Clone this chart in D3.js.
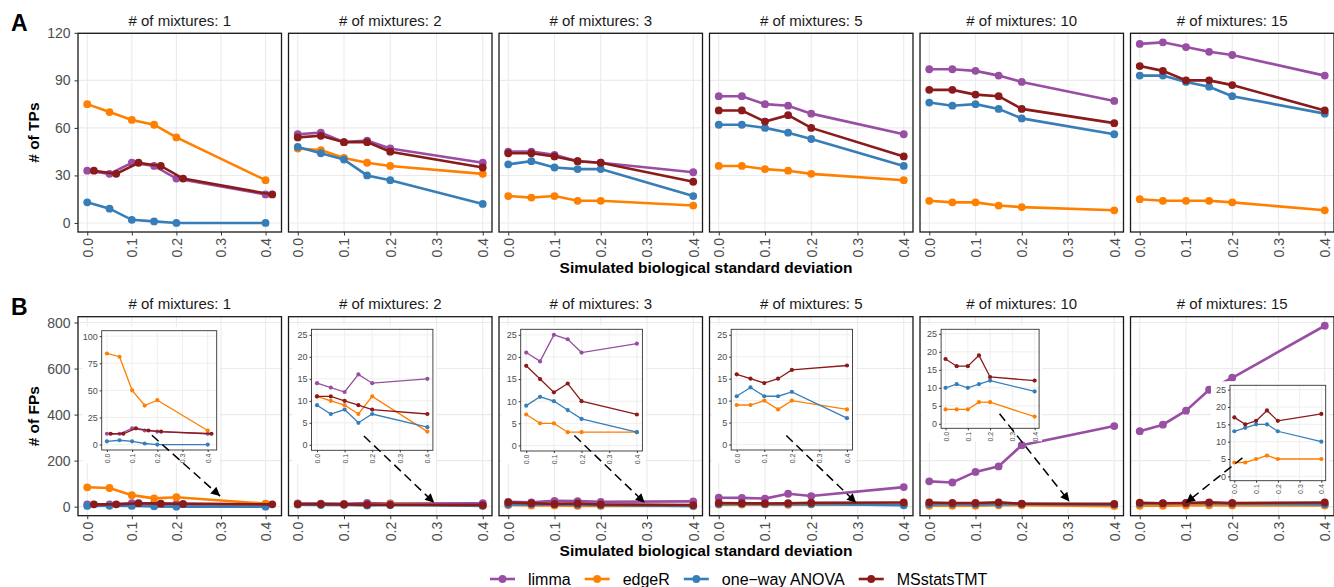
<!DOCTYPE html>
<html>
<head>
<meta charset="utf-8">
<script src="https://cdn.jsdelivr.net/npm/d3@7"></script>
<style>
  body { margin: 0; background: #fff; }
  svg { font-family: "Liberation Sans", Arial, sans-serif; }
</style>
</head>
<body>
<svg id="chart"></svg>
<script>
// ---- data ----
var sds = [0, 0.05, 0.1, 0.15, 0.2, 0.4];
var mixtures = [1, 2, 3, 5, 10, 15];
var methods = ["limma", "edgeR", "one\u2212way ANOVA", "MSstatsTMT"];
var colors = ["#984EA3", "#FF7F00", "#377EB8", "#8B1A1A"];

// true positives, one array per mixture panel
var tpLimma   = [[33,31,38,36,28,18],[56,57,51,52,47,38],[45,45,43,39,38,32],[80,80,75,74,69,56],[97,97,96,93,89,77],[113,114,111,108,106,93]];
var tpEdgeR   = [[75,70,65,62,54,27],[47,46,41,38,36,31],[17,16,17,14,14,11],[36,36,34,33,31,27],[14,13,13,11,10,8],[15,14,14,14,13,8]];
var tpAnova   = [[13,9,2,1,0,0],[48,44,40,30,27,12],[37,39,35,34,34,17],[62,62,60,57,53,36],[76,74,75,72,66,56],[93,93,89,86,80,69]];
var tpMSstats = [[33,31,38,36,28,18],[54,55,51,51,45,35],[44,44,42,39,38,26],[71,71,64,68,60,42],[84,84,81,80,72,63],[99,96,90,90,87,71]];

// false positives
var fpLimma   = [[10,10,15,13,12,10],[14,13,12,16,14,15],[21,19,25,24,21,23],[39,38,35,56,46,85],[110,105,151,175,267,350],[328,356,417,508,560,786]];
var fpEdgeR   = [[84,81,50,36,41,13],[11,10,9,7,11,3],[7,5,5,3,3,3],[9,9,10,8,10,8],[4,4,4,6,6,2],[4,4,5,6,5,5]];
var fpAnova   = [[3,4,3,1,0,0],[9,7,8,5,7,4],[9,11,10,8,6,3],[11,13,11,11,12,6],[10,11,10,11,12,9],[13,14,15,15,13,10]];
var fpMSstats = [[10,10,15,13,12,10],[11,11,10,9,8,7],[18,15,12,14,10,7],[16,15,14,15,17,18],[18,16,16,19,13,12],[17,15,16,19,16,18]];

var xTicks = [0, 0.1, 0.2, 0.3, 0.4];
var tpTicks = [0, 30, 60, 90, 120];
var fpTicks = [0, 200, 400, 600, 800];

// zoom-in insets for FP panels
var insetMethods = [[0,1,2,3],[0,1,2,3],[0,1,2,3],[1,2,3],[1,2,3],[1,2,3]];
var insetYMax = [100, 25, 25, 25, 25, 25];
var insetTicks = [[0,25,50,75,100],[0,5,10,15,20,25],[0,5,10,15,20,25],[0,5,10,15,20,25],[0,5,10,15,20,25],[0,5,10,15,20,25]];
// arrow from inset to main lines, in data units
var arrowFrom = [[0.145,310],[0.143,307],[0.143,309],[0.146,309],[0.152,404],[0.222,212]];
var arrowTo   = [[0.298,46],[0.295,17],[0.295,17],[0.297,17],[0.303,22],[0.1,17]];

// MSstatsTMT points are dodged in the single-mixture panel
var dodge = [0.015, 0, 0, 0, 0, 0];

// ---- layout ----
var width = 1334, height = 587;
var panelW = 203.5, panelGap = 7, left0 = 78;
var rows = [
  {top: 33.3, bottom: 232, label: "A", ytitle: "# of TPs", ticks: tpTicks, series: [tpLimma, tpEdgeR, tpAnova, tpMSstats], inset: false},
  {top: 316.7, bottom: 515.7, label: "B", ytitle: "# of FPs", ticks: fpTicks, series: [fpLimma, fpEdgeR, fpAnova, fpMSstats], inset: true}
];
// inset plot area relative to panel [dx, dy, w, h]
var insetBox = [[23.7,14,115,119.3],[23,12.6,121.4,121],[21.7,12.6,121.7,121.7],[21.7,12.6,121.3,120.7],[21.1,12.6,98,99],[99.5,68.6,95.7,95.4]];

var svg = d3.select("#chart").attr("width", width).attr("height", height);

svg.append("defs").append("marker")
  .attr("id", "arrowhead")
  .attr("viewBox", "0 0 10 10")
  .attr("refX", 10).attr("refY", 5)
  .attr("markerWidth", 11).attr("markerHeight", 9)
  .attr("markerUnits", "userSpaceOnUse")
  .attr("orient", "auto")
  .append("path").attr("d", "M0,0 L10,5 L0,10 Z").attr("fill", "#000");

function xValue(p, m, x) { return m === 3 ? x + dodge[p] : x; }

function xScaleFor(p, x0, x1) {
  var hi = d3.max(sds) + dodge[p], lo = 0;
  var pad = (hi - lo) * 0.05;
  return d3.scaleLinear().domain([lo - pad, hi + pad]).range([x0, x1]);
}

function styleAxis(g) {
  g.select(".domain").remove();
  g.selectAll(".tick line").attr("stroke", "#333").attr("stroke-width", 1);
}

rows.forEach(function(row) {
  var allVals = d3.merge(row.series.map(function(s){ return d3.merge(s); }));
  var ymin = 0, ymax = d3.max(allVals);
  var ypad = (ymax - ymin) * 0.05;
  var y = d3.scaleLinear().domain([ymin - ypad, ymax + ypad]).range([row.bottom, row.top]);

  svg.append("text").attr("x", 11).attr("y", row.top - 2)
     .attr("font-size", 23).attr("font-weight", "bold").text(row.label);

  svg.append("text")
     .attr("transform", "translate(39," + ((row.top + row.bottom) / 2) + ") rotate(-90)")
     .attr("text-anchor", "middle").attr("font-size", 15.5).attr("font-weight", "bold")
     .text(row.ytitle);

  mixtures.forEach(function(mix, p) {
    var x0 = left0 + p * (panelW + panelGap), x1 = x0 + panelW;
    var x = xScaleFor(p, x0, x1);
    var g = svg.append("g");

    g.append("text").attr("x", (x0 + x1) / 2).attr("y", row.top - 7.5)
     .attr("text-anchor", "middle").attr("font-size", 15).attr("fill", "#1a1a1a")
     .text("# of mixtures: " + mix);

    // grid
    g.selectAll(".gx").data(xTicks).enter().append("line")
     .attr("x1", d => x(d)).attr("x2", d => x(d))
     .attr("y1", row.top).attr("y2", row.bottom)
     .attr("stroke", "#ebebeb").attr("stroke-width", 1.1);
    g.selectAll(".gy").data(row.ticks).enter().append("line")
     .attr("x1", x0).attr("x2", x1)
     .attr("y1", d => y(d)).attr("y2", d => y(d))
     .attr("stroke", "#ebebeb").attr("stroke-width", 1.1);

    // series
    row.series.forEach(function(s, m) {
      var pts = s[p].map(function(v, i){ return [xValue(p, m, sds[i]), v]; });
      g.append("path").datum(pts)
       .attr("d", d3.line().x(d => x(d[0])).y(d => y(d[1])))
       .attr("fill", "none").attr("stroke", colors[m]).attr("stroke-width", 2.6);
      g.selectAll(null).data(pts).enter().append("circle")
       .attr("cx", d => x(d[0])).attr("cy", d => y(d[1])).attr("r", 3.9)
       .attr("fill", colors[m]);
    });

    g.append("rect").attr("x", x0).attr("y", row.top)
     .attr("width", panelW).attr("height", row.bottom - row.top)
     .attr("fill", "none").attr("stroke", "#1a1a1a").attr("stroke-width", 1.3);

    // x axis
    var xa = g.append("g").attr("transform", "translate(0," + row.bottom + ")")
      .call(d3.axisBottom(x).tickValues(xTicks).tickFormat(d3.format(".1f")).tickSize(3.5).tickPadding(2));
    styleAxis(xa);
    xa.selectAll("text").attr("transform", "rotate(-90)")
      .attr("text-anchor", "end").attr("x", -6).attr("y", 0).attr("dy", "0.35em")
      .attr("font-size", 14).attr("fill", "#4d4d4d")
      .attr("font-family", "Liberation Sans, Arial, sans-serif");

    if (p === 0) {
      var ya = g.append("g").attr("transform", "translate(" + x0 + ",0)")
        .call(d3.axisLeft(y).tickValues(row.ticks).tickSize(3.5).tickPadding(4));
      styleAxis(ya);
      ya.selectAll("text").attr("font-size", 14).attr("fill", "#4d4d4d")
        .attr("font-family", "Liberation Sans, Arial, sans-serif");
    }

    if (row.inset) {
      var b = insetBox[p];
      var ix0 = x0 + b[0], iy0 = row.top + b[1], iw = b[2], ih = b[3];
      var ig = g.append("g");
      ig.append("rect").attr("x", ix0 - 19).attr("y", iy0 - 4)
        .attr("width", iw + 22).attr("height", ih + 17).attr("fill", "#fff");
      var ix = xScaleFor(p, ix0, ix0 + iw);
      var ipad = insetYMax[p] * 0.05;
      var iy = d3.scaleLinear().domain([-ipad, insetYMax[p] + ipad]).range([iy0 + ih, iy0]);

      ig.selectAll(null).data(xTicks).enter().append("line")
        .attr("x1", d => ix(d)).attr("x2", d => ix(d)).attr("y1", iy0).attr("y2", iy0 + ih)
        .attr("stroke", "#ebebeb").attr("stroke-width", 0.8);
      ig.selectAll(null).data(insetTicks[p]).enter().append("line")
        .attr("x1", ix0).attr("x2", ix0 + iw).attr("y1", d => iy(d)).attr("y2", d => iy(d))
        .attr("stroke", "#ebebeb").attr("stroke-width", 0.8);

      insetMethods[p].forEach(function(m) {
        var pts = row.series[m][p].map(function(v, i){ return [xValue(p, m, sds[i]), v]; });
        ig.append("path").datum(pts)
          .attr("d", d3.line().x(d => ix(d[0])).y(d => iy(d[1])))
          .attr("fill", "none").attr("stroke", colors[m]).attr("stroke-width", 1.3);
        ig.selectAll(null).data(pts).enter().append("circle")
          .attr("cx", d => ix(d[0])).attr("cy", d => iy(d[1])).attr("r", 2.1)
          .attr("fill", colors[m]);
      });

      ig.append("rect").attr("x", ix0).attr("y", iy0).attr("width", iw).attr("height", ih)
        .attr("fill", "none").attr("stroke", "#333").attr("stroke-width", 0.9);

      var ixa = ig.append("g").attr("transform", "translate(0," + (iy0 + ih) + ")")
        .call(d3.axisBottom(ix).tickValues(xTicks).tickFormat(d3.format(".1f")).tickSize(2));
      styleAxis(ixa);
      ixa.selectAll("text").attr("transform", "rotate(-90)")
        .attr("text-anchor", "end").attr("x", -3.5).attr("y", 0).attr("dy", "0.35em")
        .attr("font-size", 7).attr("fill", "#4d4d4d")
        .attr("font-family", "Liberation Sans, Arial, sans-serif");
      var iya = ig.append("g").attr("transform", "translate(" + ix0 + ",0)")
        .call(d3.axisLeft(iy).tickValues(insetTicks[p]).tickSize(2).tickPadding(2));
      styleAxis(iya);
      iya.selectAll("text").attr("font-size", 9).attr("fill", "#4d4d4d")
        .attr("font-family", "Liberation Sans, Arial, sans-serif");

      g.append("line")
        .attr("x1", x(arrowFrom[p][0])).attr("y1", y(arrowFrom[p][1]))
        .attr("x2", x(arrowTo[p][0])).attr("y2", y(arrowTo[p][1]))
        .attr("stroke", "#000").attr("stroke-width", 1.5)
        .attr("stroke-dasharray", "9,5")
        .attr("marker-end", "url(#arrowhead)");
    }
  });

  svg.append("text").attr("x", left0 + (6 * panelW + 5 * panelGap) / 2)
     .attr("y", row.bottom + 40.5).attr("text-anchor", "middle")
     .attr("font-size", 15.5).attr("font-weight", "bold")
     .text("Simulated biological standard deviation");
});

// ---- legend ----
var lx = 490, ly = 579;
methods.forEach(function(name, m) {
  var lg = svg.append("g");
  lg.append("line").attr("x1", lx).attr("x2", lx + 25).attr("y1", ly).attr("y2", ly)
    .attr("stroke", colors[m]).attr("stroke-width", 2.6);
  lg.append("circle").attr("cx", lx + 12.5).attr("cy", ly).attr("r", 3.9).attr("fill", colors[m]);
  var t = lg.append("text").attr("x", lx + 38).attr("y", ly + 5.8)
    .attr("font-size", 16).attr("fill", "#000").text(name);
  lx = lx + 38 + t.node().getComputedTextLength() + 14;
});
</script>
</body>
</html>
